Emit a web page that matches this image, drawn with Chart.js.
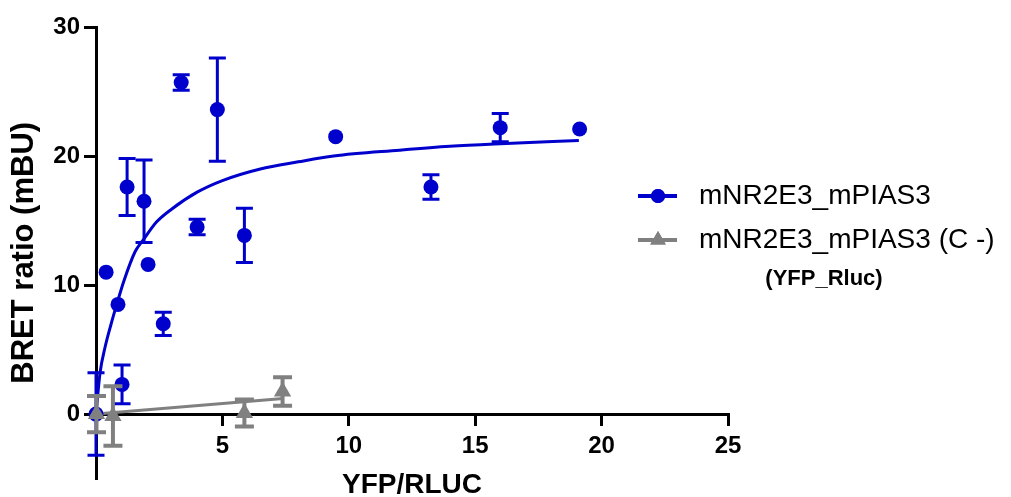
<!DOCTYPE html>
<html>
<head>
<meta charset="utf-8">
<script src="https://cdn.jsdelivr.net/npm/chart.js@4/dist/chart.umd.min.js"></script>
<style>
    body { margin: 0; background: #fff; }
    #wrap { width: 1011px; height: 497px; position: relative; }
</style>
</head>
<body>
<div id="wrap"><canvas id="bretChart"></canvas></div>
<script>
// mNR2E3_mPIAS3 measurements (mean, SEM)
var blueX   = [0, 0.4, 0.87, 1.03, 1.23, 1.9, 2.06, 2.66, 3.37, 4.0, 4.8, 5.87, 9.48, 13.25, 15.99, 19.13];
var blueY   = [0, 11.0, 8.5, 2.3, 17.6, 16.5, 11.6, 7.0, 25.7, 14.5, 23.6, 13.85, 21.5, 17.6, 22.2, 22.1];
var blueErr = [3.2, 0, 0, 1.5, 2.2, 3.2, 0, 0.9, 0.6, 0.6, 4.0, 2.1, 0, 0.95, 1.1, 0];

// negative control (C -)
var grayX   = [0.02, 0.67, 5.87, 7.38];
var grayY   = [0.0, -0.15, 0.08, 1.75];
var grayErr = [1.4, 2.3, 1.05, 1.1];

// fitted curves
var blueFitX = [0, 0.16, 0.36, 0.6, 0.82, 1.1, 1.55, 1.87, 2.4, 3.0, 4.0, 5.0, 6.5, 8.0, 9.4, 12, 14, 16, 19.1];
var blueFitY = [0, 3.2, 5.2, 7.0, 8.5, 10.3, 12.6, 13.5, 14.9, 15.9, 17.2, 18.1, 19.0, 19.55, 20.0, 20.45, 20.75, 20.95, 21.2];
var grayFitX = [0, 7.4];
var grayFitY = [0.0, 1.2];

var xTicks = [5, 10, 15, 20, 25];
var yTicks = [0, 10, 20, 30];
var seriesNames = ['mNR2E3_mPIAS3', 'mNR2E3_mPIAS3 (C -)'];
var legendNote = '(YFP_Rluc)';

var BLUE = 'rgb(0, 0, 205)';
var GRAY = 'rgb(128, 128, 128)';
var FONT = "'Liberation Sans', Arial, sans-serif";

function pts(xs, ys) {
    var out = [];
    for (var i = 0; i < xs.length; i++) out.push({x: xs[i], y: ys[i]});
    return out;
}

// draws SEM bars under the markers of a dataset
var errorBars = {
    id: 'errorBars',
    beforeDatasetDraw: function(chart, args) {
        var ds = chart.data.datasets[args.index];
        if (!ds.errors) return;
        var ctx = chart.ctx;
        var xs = chart.scales.x, ys = chart.scales.y;
        ctx.save();
        ctx.strokeStyle = ds.backgroundColor;
        ctx.lineWidth = ds.errWidth;
        ctx.lineCap = 'butt';
        for (var i = 0; i < ds.data.length; i++) {
            var e = ds.errors[i];
            if (!e) continue;
            var px = xs.getPixelForValue(ds.data[i].x);
            var top = ys.getPixelForValue(ds.data[i].y + e);
            var bot = ys.getPixelForValue(ds.data[i].y - e);
            var w = ds.capWidth / 2;
            ctx.beginPath();
            ctx.moveTo(px, top); ctx.lineTo(px, bot);
            ctx.moveTo(px - w, top); ctx.lineTo(px + w, top);
            ctx.moveTo(px - w, bot); ctx.lineTo(px + w, bot);
            ctx.stroke();
        }
        ctx.restore();
    }
};

var sideLegend = {
    id: 'sideLegend',
    afterDraw: function(chart) {
        var ctx = chart.ctx;
        var styles = [
            {color: BLUE, style: 'circle', r: 7},
            {color: GRAY, style: 'triangle', r: 9}
        ];
        ctx.save();
        for (var i = 0; i < seriesNames.length; i++) {
            var y = 196 + i * 44;
            ctx.strokeStyle = styles[i].color;
            ctx.lineWidth = 4;
            ctx.beginPath();
            ctx.moveTo(638, y); ctx.lineTo(677, y);
            ctx.stroke();
            ctx.fillStyle = styles[i].color;
            Chart.helpers.drawPoint(ctx, {pointStyle: styles[i].style, radius: styles[i].r, borderWidth: 0}, 658, y);
            ctx.fill();
            ctx.fillStyle = '#000';
            ctx.font = '28px ' + FONT;
            ctx.textAlign = 'left';
            ctx.textBaseline = 'middle';
            ctx.fillText(seriesNames[i], 699, y);
        }
        ctx.font = 'bold 22px ' + FONT;
        ctx.textAlign = 'center';
        ctx.fillText(legendNote, 824, 279);
        ctx.restore();
    }
};

var ctx = document.getElementById('bretChart');
var myChart = new Chart(ctx, {
    type: 'scatter',
    data: {
        datasets: [
            {
                label: seriesNames[1],
                data: pts(grayX, grayY),
                errors: grayErr,
                errWidth: 4,
                capWidth: 19,
                order: 0,
                pointStyle: 'triangle',
                pointRadius: 10,
                backgroundColor: GRAY,
                borderColor: GRAY,
                borderWidth: 0,
                clip: false
            },
            {
                label: seriesNames[0],
                data: pts(blueX, blueY),
                errors: blueErr,
                errWidth: 3,
                capWidth: 17,
                order: 1,
                pointStyle: 'circle',
                pointRadius: 7.5,
                backgroundColor: BLUE,
                borderColor: BLUE,
                borderWidth: 0,
                clip: false
            },
            {
                label: 'fit',
                data: pts(blueFitX, blueFitY),
                showLine: true,
                order: 2,
                pointRadius: 0,
                borderColor: BLUE,
                borderWidth: 3,
                cubicInterpolationMode: 'monotone',
                clip: false
            },
            {
                label: 'fit C-',
                data: pts(grayFitX, grayFitY),
                showLine: true,
                order: 3,
                pointRadius: 0,
                borderColor: GRAY,
                borderWidth: 3,
                clip: false
            }
        ]
    },
    options: {
        responsive: true,
        maintainAspectRatio: false,
        animation: false,
        layout: { padding: { left: 0, right: 283, top: 27, bottom: 15 } },
        plugins: {
            legend: { display: false },
            tooltip: { enabled: false }
        },
        scales: {
            x: {
                type: 'linear',
                position: { y: 0 },
                min: 0,
                max: 25,
                afterBuildTicks: function(s) { s.ticks = xTicks.map(function(v) { return {value: v}; }); },
                border: { display: true, color: '#000', width: 3 },
                grid: { drawOnChartArea: false, drawTicks: true, tickLength: 10, color: '#000', lineWidth: 3 },
                ticks: { color: '#000', padding: 8, maxRotation: 0, font: { family: FONT, size: 24, weight: 'bold' } },
                title: { display: true, text: 'YFP/RLUC', color: '#000', padding: { top: 0, bottom: 0 }, font: { family: FONT, size: 28, weight: 'bold' } }
            },
            y: {
                type: 'linear',
                position: 'left',
                min: -5,
                max: 30,
                afterBuildTicks: function(s) { s.ticks = yTicks.map(function(v) { return {value: v}; }); },
                afterFit: function(s) { s.width = 96; },
                border: { display: true, color: '#000', width: 3 },
                grid: { drawOnChartArea: false, drawTicks: true, tickLength: 12, color: '#000', lineWidth: 3 },
                ticks: { color: '#000', padding: 4, font: { family: FONT, size: 24, weight: 'bold' } },
                title: { display: true, text: 'BRET ratio (mBU)', color: '#000', padding: { top: 6, bottom: 0 }, font: { family: FONT, size: 31, weight: 'bold' } }
            }
        }
    },
    plugins: [errorBars, sideLegend]
});
</script>
</body>
</html>
